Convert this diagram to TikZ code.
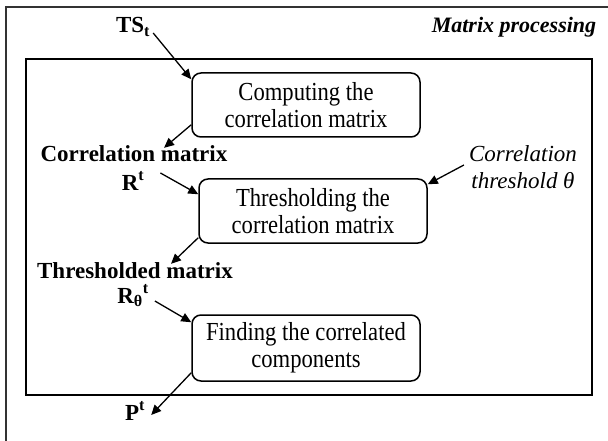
\documentclass[tikz,border=0pt]{standalone}
\usepackage{fontspec}
\setmainfont{Liberation Serif}
\newfontfamily\boxfont[FakeStretch=0.87]{Liberation Serif}
\usetikzlibrary{arrows.meta}
\begin{document}
\begin{tikzpicture}[x=1pt,y=-1pt,
  proc/.style={draw, line width=1.5pt, rounded corners=9pt, minimum width=228pt,
    minimum height=64pt, inner sep=0pt, align=center, font=\boxfont\fontsize{26}{27}\selectfont},
  lbl/.style={anchor=base, inner sep=0pt, font=\fontsize{23}{27}\selectfont\bfseries},
  note/.style={anchor=base, inner sep=0pt, font=\fontsize{23}{27}\selectfont\itshape},
  arr/.style={-{Triangle[length=10pt,width=9pt]}, line width=1.3pt}]
\useasboundingbox (0,0) rectangle (608,441);
\draw[line width=1.2pt, black!80] (6,441) -- (6,7) -- (608,7);
\draw[line width=1.8pt] (26,59) rectangle (592,395);
\node[lbl] (ts) at (133,33) {TS\textsubscript{t}};
\node[lbl, font=\fontsize{22}{27}\selectfont\bfseries\itshape] (title) at (514,33) {Matrix processing};
\node[proc] (box1) at (306,105) {Computing the\\correlation matrix};
\node[lbl] (corrlbl) at (134,162) {Correlation matrix};
\node[lbl] (rt) at (133,190) {R\textsuperscript{t}};
\node[note] (thrA) at (523,162) {Correlation};
\node[note] (thrB) at (523,189) {threshold θ};
\node[proc] (box2) at (313,211) {Thresholding the\\correlation matrix};
\node[lbl] (thlbl) at (135,278) {Thresholded matrix};
\node[lbl] (rth) at (133,303) {R\textsubscript{θ}\textsuperscript{t}};
\node[proc, minimum height=66pt] (box3) at (306,348) {Finding the correlated\\components};
\node[lbl] (pt) at (135,420) {P\textsuperscript{t}};
\draw[arr] ([xshift=3pt]ts.base east) -- ([yshift=-7pt]box1.north west);
\draw[arr] ([yshift=13pt]box1.south west) -- ([xshift=30pt,yshift=-2pt]corrlbl.north);
\draw[arr] ([xshift=16pt,yshift=17pt]rt.base east) -- ([yshift=-16pt]box2.north west);
\draw[arr] ([xshift=-5pt,yshift=-3pt]thrA.base west) -- ([yshift=-6pt]box2.north east);
\draw[arr] ([yshift=6pt]box2.south west) -- ([xshift=36pt,yshift=-2pt]thlbl.north);
\draw[arr] ([xshift=6pt,yshift=2pt]rth.base east) -- ([yshift=-8pt]box3.north west);
\draw[arr] ([yshift=9pt]box3.south west) -- ([xshift=6pt,yshift=5pt]pt.base east);
\end{tikzpicture}
\end{document}
